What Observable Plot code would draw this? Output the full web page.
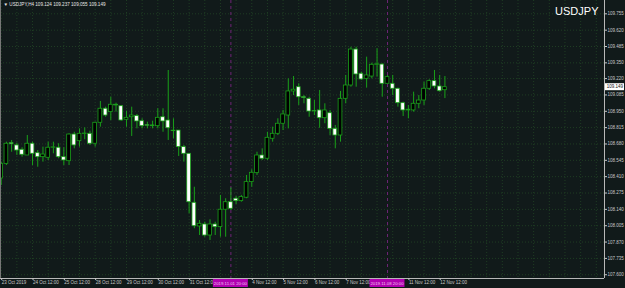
<!DOCTYPE html>
<html><head><meta charset="utf-8">
<script src="https://cdn.jsdelivr.net/npm/d3@7"></script>
<script src="https://cdn.jsdelivr.net/npm/@observablehq/plot@0.6"></script>
<style>
html,body{margin:0;padding:0;background:#111a1a;}
#chart svg{display:block}
</style></head><body><div id="chart"></div>
<script>
// USDJPY H4 candles, bar 0 = 23 Oct 2019 12:00 (trading bars only)
const open = [108.395,108.516,108.687,108.668,108.632,108.585,108.682,108.604,108.571,108.566,
108.649,108.649,108.571,108.538,108.758,108.703,108.762,108.764,108.682,108.855,
108.971,108.943,109.004,108.992,108.880,108.901,108.910,108.868,108.835,108.833,
108.827,108.901,108.874,108.786,108.791,108.654,108.599,108.194,107.999,108.015,
107.924,108.015,107.993,108.137,108.199,108.228,108.208,108.236,108.365,108.439,
108.585,108.558,108.723,108.764,108.847,108.915,109.114,109.149,109.066,109.053,
108.951,108.957,108.893,108.934,108.805,108.750,109.053,109.163,109.460,109.260,
109.218,109.237,109.334,109.336,109.177,109.177,109.136,109.017,108.957,108.957,
109.012,109.039,109.136,109.199,109.155,109.124];
const high = [108.530,108.695,108.709,108.687,108.649,108.750,108.695,108.626,108.654,108.695,
108.695,108.682,108.649,108.764,108.777,108.805,108.813,108.786,108.860,109.031,
108.984,109.066,109.017,108.998,108.951,108.984,108.924,108.888,108.860,108.868,
108.971,108.971,109.287,108.888,108.791,108.668,108.599,108.323,108.048,108.034,
108.054,108.034,108.255,108.228,108.318,108.246,108.255,108.420,108.467,108.612,
108.640,108.777,108.819,108.888,108.957,109.218,109.237,109.177,109.080,109.066,
109.039,109.122,109.012,108.957,108.833,109.114,109.246,109.479,109.479,109.273,
109.397,109.347,109.466,109.342,109.246,109.246,109.141,109.025,108.998,109.108,
109.080,109.190,109.210,109.287,109.246,109.237];
const low = [108.337,108.502,108.612,108.585,108.571,108.585,108.502,108.488,108.530,108.544,
108.599,108.558,108.502,108.502,108.640,108.654,108.715,108.668,108.654,108.819,
108.901,108.874,108.943,108.868,108.819,108.742,108.805,108.805,108.805,108.805,
108.805,108.777,108.709,108.723,108.577,108.530,108.104,107.980,107.924,107.910,
107.883,107.924,107.910,107.910,108.131,108.180,108.199,108.228,108.323,108.420,
108.544,108.544,108.695,108.750,108.791,108.805,109.080,108.998,109.012,108.901,
108.915,108.810,108.847,108.750,108.640,108.695,109.012,109.149,109.149,109.204,
109.141,109.218,109.232,109.066,109.177,109.080,108.984,108.907,108.888,108.943,
108.971,108.998,109.122,109.136,109.108,109.055];
const close = [108.516,108.682,108.678,108.626,108.591,108.682,108.599,108.571,108.593,108.649,
108.652,108.571,108.544,108.758,108.668,108.764,108.766,108.682,108.855,108.971,
108.915,109.004,108.998,108.874,108.896,108.915,108.866,108.827,108.831,108.827,
108.896,108.866,108.810,108.790,108.654,108.599,108.199,108.001,108.021,107.924,
108.015,107.993,108.137,108.199,108.145,108.208,108.241,108.365,108.442,108.585,
108.558,108.731,108.764,108.847,108.924,109.114,109.128,109.066,109.060,108.948,
108.949,108.893,108.957,108.805,108.750,109.053,109.163,109.460,109.254,109.213,
109.246,109.334,109.338,109.177,109.232,109.136,109.017,108.957,108.963,109.012,
109.039,109.136,109.199,109.155,109.116,109.149];

const yTicks = [109.755,109.620,109.485,109.350,109.220,109.085,108.950,108.815,108.680,
108.545,108.410,108.275,108.140,108.005,107.870,107.735,107.600];
const tickIdx = [0,6,12,18,24,30,36,48,54,60,66,78,84];
const tickText = ["23 Oct 2019","24 Oct 12:00","25 Oct 12:00","28 Oct 12:00","29 Oct 12:00",
"30 Oct 12:00","31 Oct 12:00","4 Nov 12:00","5 Nov 12:00","6 Nov 12:00","7 Nov 12:00",
"11 Nov 12:00","12 Nov 12:00"];
const markerIdx = [44, 74];
const markerText = ["2019.11.01 20:00", "2019.11.08 20:00"];
const symbol = "USDJPY";
const period = "H4";

const bars = open.map((o, i) => ({i, open: o, high: high[i], low: low[i], close: close[i]}));
const tickMap = new Map(tickIdx.map((d, k) => [d, tickText[k]]));
const gridIdx = d3.range(0, 116, 3);
const X0 = -0.134, X1 = 115.57;
const Y0 = 107.569, Y1 = 109.865;
const GREEN = "#19a019";
const GRID = "#1f3d23";
const TXT = "#c8c8c8";
const FONT = "'Liberation Sans', Arial, sans-serif";
const last = bars[bars.length - 1];
const header = `\u25BC ${symbol},${period} ${last.open.toFixed(3)} ${last.high.toFixed(3)} ${last.low.toFixed(3)} ${last.close.toFixed(3)}`;

const chart = Plot.plot({
  width: 625, height: 288,
  marginLeft: 0, marginRight: 21, marginTop: 0, marginBottom: 10,
  style: {background: "#111a1a", fontFamily: FONT, color: TXT},
  x: {type: "linear", domain: [X0, X1], axis: null},
  y: {domain: [Y0, Y1], axis: null},
  marks: [
    Plot.ruleY(yTicks, {stroke: GRID, strokeDasharray: "1,2"}),
    Plot.ruleX(gridIdx, {stroke: GRID, strokeDasharray: "1,2"}),
    Plot.ruleX(markerIdx, {stroke: "#6e2476", strokeDasharray: "3,3"}),
    Plot.ruleX(bars, {x: "i", y1: "low", y2: "high", stroke: GREEN}),
    Plot.rect(bars, {x1: d => d.i - 0.36, x2: d => d.i + 0.36, y1: "open", y2: "close",
      fill: d => d.close >= d.open ? "#000000" : "#ffffff", stroke: GREEN, strokeWidth: 0.8}),
    Plot.ruleX([X1], {stroke: "#b8b8b8"}),
    Plot.ruleY([Y0], {stroke: "#b8b8b8"}),
    Plot.ruleX([X0], {stroke: "#777777"}),
    Plot.axisY(yTicks, {anchor: "right", tickSize: 2, tickPadding: 1, tickFormat: d => d.toFixed(3),
      fontSize: 4.5, color: TXT, label: null}),
    Plot.axisX(tickIdx, {anchor: "bottom", tickSize: 2, tickPadding: 0.5, tickFormat: d => tickMap.get(d),
      textAnchor: "start", dx: 0.5, fontSize: 4.5, color: TXT, label: null}),
    Plot.text([header], {frameAnchor: "top-left", dx: 3, dy: 2, lineAnchor: "top", textAnchor: "start",
      fontSize: 4.6, fill: "#e8e8e8"}),
    Plot.text([symbol], {frameAnchor: "top-right", dx: -6, dy: 7, lineAnchor: "top", textAnchor: "end",
      fontSize: 11, fill: "#ffffff"})
  ]
});

const xs = chart.scale("x"), ys = chart.scale("y");
const svg = d3.select(chart);
const base = 288 - 10;
markerIdx.forEach((m, k) => {
  const cx = xs.apply(m);
  svg.append("rect").attr("x", cx - 17.5).attr("y", base + 1).attr("width", 35).attr("height", 8).attr("fill", "#b100b1");
  svg.append("text").attr("x", cx).attr("y", base + 5).attr("dy", "0.35em").attr("text-anchor", "middle")
    .attr("font-size", 4.3).attr("fill", "#f0c8f0").attr("font-family", FONT).text(markerText[k]);
});
const by = ys.apply(last.close);
const bx = xs.apply(X1);
const g = svg.append("g");
g.append("rect").attr("x", bx + 1).attr("y", by - 3.5).attr("width", 19).attr("height", 7).attr("fill", "#ffffff");
g.append("text").attr("x", 623).attr("y", by).attr("dy", "0.35em").attr("text-anchor", "end")
  .attr("font-size", 4.5).attr("fill", "#111111").attr("font-family", FONT).text(last.close.toFixed(3));

document.getElementById("chart").append(chart);
</script></body></html>
